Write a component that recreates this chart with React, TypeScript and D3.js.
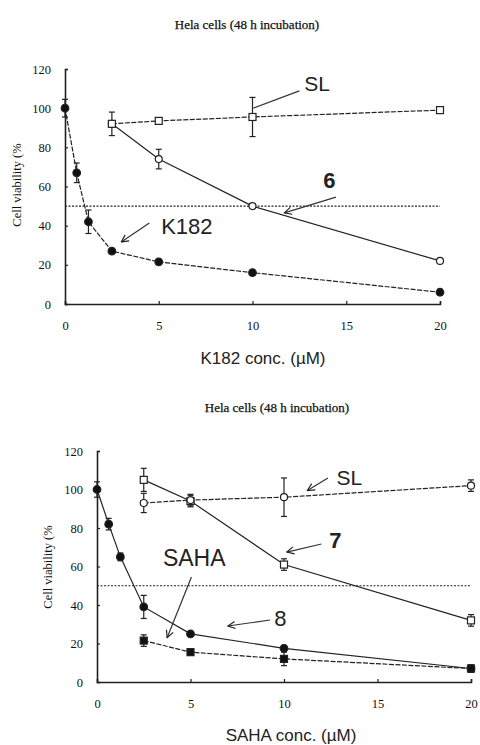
import React, { useEffect, useRef } from 'react';
import * as d3 from 'd3';

// upper panel: K182
const concFull = [0, 0.625, 1.25, 2.5, 5, 10, 20];
const concPart = [2.5, 5, 10, 20];
const viabK182 = [100, 67, 42, 27, 21.5, 16, 6];
const errK182 = [4.5, 5, 6, 1, 1, 1, 1.5];
const viabSLa = [92, 93.5, 95.5, 99];
const errSLa = [6, 1.5, 10, 1.5];
const viab6 = [92, 74, 50, 22];
const err6 = [1, 5, 1, 1];

// lower panel: SAHA
const viab8 = [100, 82, 65, 39, 25, 17.5, 7];
const err8 = [4, 3, 2, 6, 1, 1.5, 1];
const viabSAHA = [21.5, 15.5, 12, 7];
const errSAHA = [3, 1.5, 3.5, 2];
const viabSLb = [93, 94.5, 96, 102];
const errSLb = [5, 3, 10, 3];
const viab7 = [105, 94, 61, 32];
const err7 = [6, 3, 3, 3];

const xTicks = [0, 5, 10, 15, 20];
const yTicks = [0, 20, 40, 60, 80, 100, 120];
const title = 'Hela cells (48 h incubation)';
const yTitle = 'Cell viability (%';

type Series = { x: number[]; y: number[]; err: number[]; marker: string; dash: string | null };
type Note = { text: string; bold: boolean; size: number; at: [number, number]; from: [number, number]; to: [number, number]; head: boolean };

const panels = [
  {
    xr: [65, 440], yr: [304, 69], titleAt: [247, 25], yLabelX: 17, yLabelY: 185,
    xLabel: 'K182 conc. (\u00b5M)', xLabelAt: [263, 358],
    series: [
      { x: concPart, y: viab6, err: err6, marker: 'openCircle', dash: null },
      { x: concPart, y: viabSLa, err: errSLa, marker: 'openSquare', dash: '5,1.5' },
      { x: concFull, y: viabK182, err: errK182, marker: 'filledCircle', dash: '5,1.5' },
    ] as Series[],
    notes: [
      { text: 'SL', bold: false, size: 21, at: [13.45, 112.5], from: [12.5, 108.8], to: [10.05, 100], head: false },
      { text: '6', bold: true, size: 22, at: [14.1, 63.5], from: [14.45, 54.6], to: [11.7, 46.5], head: true },
      { text: 'K182', bold: false, size: 22, at: [6.5, 39.8], from: [4.5, 41.4], to: [3.0, 31.7], head: true },
    ] as Note[],
  },
  {
    xr: [97, 471], yr: [682, 451], titleAt: [277, 408], yLabelX: 48, yLabelY: 567,
    xLabel: 'SAHA conc. (\u00b5M)', xLabelAt: [291, 735],
    series: [
      { x: concPart, y: viab7, err: err7, marker: 'openSquare', dash: null },
      { x: concPart, y: viabSLb, err: errSLb, marker: 'openCircle', dash: '5,1.5' },
      { x: concFull, y: viab8, err: err8, marker: 'filledCircle', dash: null },
      { x: concPart, y: viabSAHA, err: errSAHA, marker: 'filledSquare', dash: '5,1.5' },
    ] as Series[],
    notes: [
      { text: 'SL', bold: false, size: 21, at: [13.5, 106.5], from: [12.35, 106], to: [11.25, 99.5], head: true },
      { text: '7', bold: true, size: 22, at: [12.75, 73.8], from: [12.0, 71.7], to: [10.15, 67.5], head: true },
      { text: '8', bold: false, size: 22, at: [9.8, 33.2], from: [9.25, 32.2], to: [7.0, 29.1], head: true },
      { text: 'SAHA', bold: false, size: 23, at: [5.2, 64.4], from: [5.05, 54.5], to: [3.75, 23], head: true },
    ] as Note[],
  },
];

const ink = '#222';

export default function App() {
  const ref = useRef<SVGSVGElement>(null);

  useEffect(() => {
    document.body.style.margin = '0';
    const svg = d3.select(ref.current);
    svg.selectAll('*').remove();

    svg.append('defs').append('marker')
      .attr('id', 'vhead')
      .attr('viewBox', '0 0 10 10')
      .attr('refX', 9).attr('refY', 5)
      .attr('markerWidth', 9).attr('markerHeight', 9)
      .attr('markerUnits', 'userSpaceOnUse')
      .attr('orient', 'auto')
      .append('path')
      .attr('d', 'M1,1 L9,5 L1,9')
      .attr('fill', 'none').attr('stroke', ink).attr('stroke-width', 1.3);

    panels.forEach(p => {
      const x = d3.scaleLinear().domain([0, 20]).range(p.xr);
      const y = d3.scaleLinear().domain([0, 120]).range(p.yr);
      const g = svg.append('g');

      g.append('text')
        .attr('x', p.titleAt[0]).attr('y', p.titleAt[1] + 4)
        .attr('text-anchor', 'middle')
        .attr('font-family', 'Liberation Serif, serif')
        .attr('font-size', 13).attr('fill', '#111')
        .attr('stroke', '#111').attr('stroke-width', 0.25)
        .text(title);

      // axes
      const yAxis = d3.axisLeft(y).tickValues(yTicks).tickSize(-3).tickPadding(14);
      const xAxis = d3.axisBottom(x).tickValues(xTicks).tickSize(-3).tickPadding(17);
      const ya = g.append('g').attr('transform', `translate(${p.xr[0]},0)`).call(yAxis);
      const xa = g.append('g').attr('transform', `translate(0,${p.yr[0]})`).call(xAxis);
      [ya, xa].forEach(a => {
        a.select('.domain').attr('stroke', ink).attr('stroke-width', 1.6);
        a.selectAll('.tick line').attr('stroke', ink).attr('stroke-width', 1.2);
        a.selectAll('.tick text')
          .attr('font-family', 'Liberation Serif, serif')
          .attr('font-size', 12.5).attr('fill', '#111');
      });

      g.append('text')
        .attr('transform', `translate(${p.yLabelX + 4},${p.yLabelY}) rotate(-90)`)
        .attr('text-anchor', 'middle')
        .attr('font-family', 'Liberation Serif, serif')
        .attr('font-size', 12.5).attr('fill', '#111')
        .text(yTitle);

      g.append('text')
        .attr('x', p.xLabelAt[0]).attr('y', p.xLabelAt[1] + 6)
        .attr('text-anchor', 'middle')
        .attr('font-family', 'Liberation Sans, Arial, sans-serif')
        .attr('font-size', 17).attr('fill', '#222')
        .text(p.xLabel);

      // 50% reference line
      g.append('line')
        .attr('x1', x(0)).attr('x2', x(20))
        .attr('y1', y(50)).attr('y2', y(50))
        .attr('stroke', ink).attr('stroke-width', 1.1)
        .attr('stroke-dasharray', '2,1.5');

      const line = d3.line<[number, number]>().x(d => x(d[0])).y(d => y(d[1]));

      p.series.forEach(s => {
        const pts = s.x.map((v, i) => [v, s.y[i]] as [number, number]);
        g.append('path')
          .attr('d', line(pts))
          .attr('fill', 'none').attr('stroke', ink).attr('stroke-width', 1.2)
          .attr('stroke-dasharray', s.dash);

        const bars = g.append('g');
        pts.forEach((d, i) => {
          const e = s.err[i];
          const top = y(d[1] + e), bot = y(d[1] - e);
          bars.append('line').attr('x1', x(d[0])).attr('x2', x(d[0]))
            .attr('y1', top).attr('y2', bot).attr('stroke', ink).attr('stroke-width', 1.2);
          [top, bot].forEach(yy => bars.append('line')
            .attr('x1', x(d[0]) - 3).attr('x2', x(d[0]) + 3)
            .attr('y1', yy).attr('y2', yy).attr('stroke', ink).attr('stroke-width', 1.2));
        });

        const filled = s.marker.startsWith('filled');
        const square = s.marker.endsWith('Square');
        const mk = g.append('g').selectAll('.pt').data(pts).enter();
        if (square) {
          mk.append('rect')
            .attr('x', d => x(d[0]) - 3.5).attr('y', d => y(d[1]) - 3.5)
            .attr('width', 7).attr('height', 7)
            .attr('fill', filled ? '#111' : '#fff')
            .attr('stroke', ink).attr('stroke-width', 1.2);
        } else {
          mk.append('circle')
            .attr('cx', d => x(d[0])).attr('cy', d => y(d[1]))
            .attr('r', filled ? 3.8 : 3.5)
            .attr('fill', filled ? '#111' : '#fff')
            .attr('stroke', ink).attr('stroke-width', 1.2);
        }
      });

      p.notes.forEach(n => {
        g.append('text')
          .attr('x', x(n.at[0])).attr('y', y(n.at[1]))
          .attr('dy', '0.36em')
          .attr('text-anchor', 'middle')
          .attr('font-family', 'Liberation Sans, Arial, sans-serif')
          .attr('font-size', n.size)
          .attr('font-weight', n.bold ? 'bold' : 'normal')
          .attr('fill', '#222')
          .text(n.text);
        g.append('line')
          .attr('x1', x(n.from[0])).attr('y1', y(n.from[1]))
          .attr('x2', x(n.to[0])).attr('y2', y(n.to[1]))
          .attr('stroke', '#333').attr('stroke-width', 1.2)
          .attr('marker-end', n.head ? 'url(#vhead)' : null);
      });
    });
  }, []);

  return <svg ref={ref} width={480} height={745} style={{ display: 'block', background: '#fff' }} />;
}
